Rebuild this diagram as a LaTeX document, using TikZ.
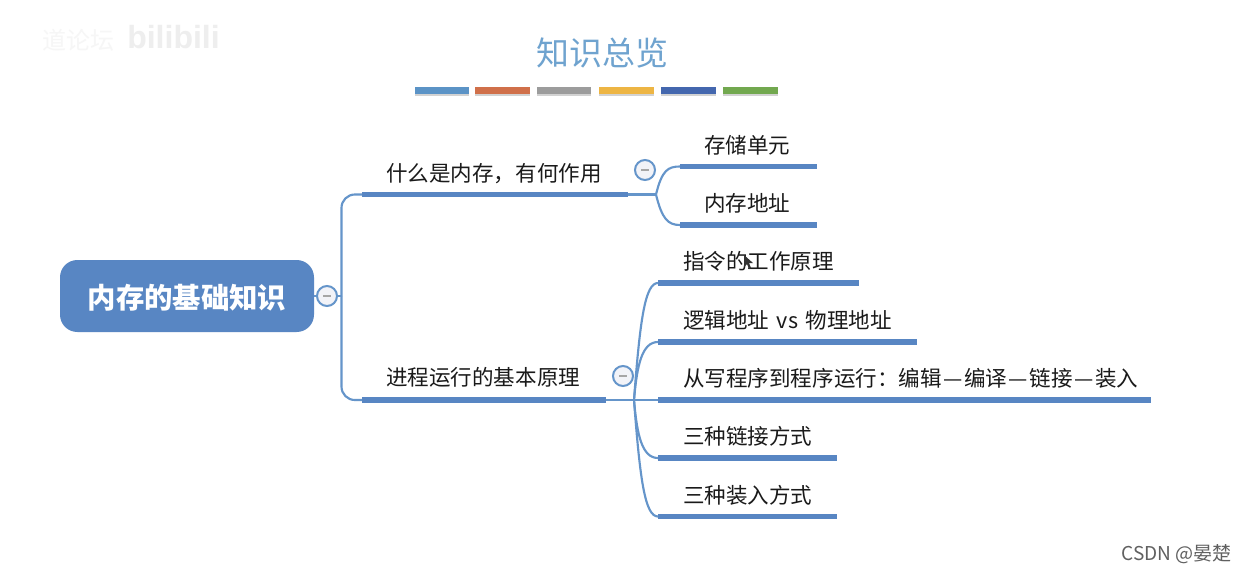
\documentclass[tikz,border=0pt]{standalone}
\usepackage{fontspec}
\setmainfont{Noto Sans CJK SC}
\newfontfamily\wmfont{Liberation Sans}
\definecolor{mapblue}{HTML}{5886C3}
\definecolor{linkblue}{HTML}{6595CA}
\definecolor{titleblue}{HTML}{6FA3CF}
\definecolor{inkblack}{HTML}{1A1A1A}
\definecolor{foldfill}{HTML}{F2F3F8}
\newcommand{\fs}[1]{\fontsize{#1}{#1}\selectfont}
\newcommand{\dd}{\hspace{0.075em}—\hspace{0.075em}}
\tikzset{
  x=0.75pt,y=-0.75pt,
  bar/.style={fill=mapblue,inner sep=0pt,outer sep=0pt,minimum height=4.4pt,anchor=west,draw=none},
  topic/.style={inner sep=0pt,text=inkblack,font=\fs{16.15},anchor=west},
  link/.style={draw=linkblue,line width=1.6pt},
  fold/.style={circle,draw=linkblue,fill=foldfill,line width=1.5pt,minimum size=15pt,inner sep=0pt},
  foldmark/.style={draw=gray!70,line width=1.1pt},
  swatch/.style={minimum width=41pt,minimum height=5pt,inner sep=0pt,outer sep=0pt,anchor=west,draw=none},
  swshadow/.style={minimum width=41pt,minimum height=5pt,inner sep=0pt,anchor=west,draw=none,fill=gray!35}
}
\begin{document}
\begin{tikzpicture}
\useasboundingbox (0,0) rectangle (1247,572);
\fill[white] (0,0) rectangle (1247,572);
% watermark
\node[anchor=west,inner sep=0pt,text=gray!7,font=\fs{18}] (wma) at (42,40) {道论坛};
\node[anchor=west,inner sep=0pt,text=gray!13,font=\wmfont\bfseries\fs{24}] (wmb) at (127,37) {bilibili};
% title
\node[inner sep=0pt,text=titleblue,font=\fs{24.7}] (title) at (602.5,53) {知识总览};
\foreach \nm/\xx/\ww/\cc in {a/415/54/5B93C6,b/475/55/D0704A,c/537/54/9C9C9C,d/599/55/EDB544,e/661/55/4467AE,f/723/55/72A84F}{
  \definecolor{swc}{HTML}{\cc}
  \node[swshadow,minimum width=\ww*0.75pt] at (\xx,92.5) {};
  \node[swatch,fill=swc,minimum width=\ww*0.75pt] (sw\nm) at (\xx,90.5) {};
}
% root
\node[rounded corners=13pt,fill=mapblue,text=white,minimum width=190.5pt,minimum height=54pt,inner sep=0pt,font=\bfseries\fs{21.3}] (root) at (187,296) {\raisebox{-1.4pt}[\height][\depth]{内存的基础知识}};
% bars
\node[bar,minimum width=199.5pt] (b1) at (362,194.5) {};
\node[bar,minimum width=183pt] (b2) at (362,400) {};
\node[bar,minimum width=102.5pt] (c1) at (680,166.5) {};
\node[bar,minimum width=102.5pt] (c2) at (680,225) {};
\node[bar,minimum width=150.5pt] (d1) at (658,283) {};
\node[bar,minimum width=194pt] (d2) at (658,342) {};
\node[bar,minimum width=369.5pt] (d3) at (658,400) {};
\node[bar,minimum width=134.5pt] (d4) at (658,458) {};
\node[bar,minimum width=134.5pt] (d5) at (658,516.5) {};
% labels
\node[topic] (t1) at (386,173.5) {什么是内存，有何作用};
\node[topic] (t2) at (386,377.5) {进程运行的基本原理};
\node[topic] (u1) at (704,145) {存储单元};
\node[topic] (u2) at (704,203.5) {内存地址};
\node[topic] (v1) at (683,261.5) {指令的工作原理};
\node[topic] (v2) at (683,320) {逻辑地址\hspace{0.12em} vs \hspace{0.12em}物理地址};
\node[topic] (v3) at (683,378) {从写程序到程序运行：编辑\dd 编译\dd 链接\dd 装入};
\node[topic] (v4) at (683,436.5) {三种链接方式};
\node[topic] (v5) at (683,495) {三种装入方式};
% junctions
\coordinate (jr) at (341.5,296);
\coordinate (j1) at (656,194.5);
\coordinate (j2) at (634,400);
% connectors
\draw[link] (root.east) -- (jr);
\draw[link,rounded corners=10pt] (jr) |- (b1.west);
\draw[link,rounded corners=10pt] (jr) |- (b2.west);
\draw[link] (b1.east) -- (j1);
\draw[link] (b2.east) -- (d3.west);
\draw[link] (j1) .. controls (662,170) and (668,166.5) .. (c1.west);
\draw[link] (j1) .. controls (662,219) and (668,225) .. (c2.west);
\draw[link] (j2) .. controls (640,320) and (645,283) .. (d1.west);
\draw[link] (j2) .. controls (637,365) and (642,342) .. (d2.west);
\draw[link] (j2) .. controls (637,435) and (642,458) .. (d4.west);
\draw[link] (j2) .. controls (640,480) and (645,516.5) .. (d5.west);
% fold buttons
\node[fold] (f0) at (327,296) {};
\draw[foldmark] (f0.center) ++(-4,0) -- ++(8,0);
\node[fold] (f1) at (645,170) {};
\draw[foldmark] (f1.center) ++(-4,0) -- ++(8,0);
\node[fold] (f2) at (623,376) {};
\draw[foldmark] (f2.center) ++(-4,0) -- ++(8,0);
% cursor
\fill[black!80] (744,255) -- (744,267) -- (747,264) -- (749,269) -- (751,268) -- (749,263) -- (753,263) -- cycle;
% credit
\node[anchor=east,inner sep=0pt,text=gray!75!black,font=\fs{14.3}] (credit) at (1232,554) {CSDN @晏楚};
\end{tikzpicture}
\end{document}
